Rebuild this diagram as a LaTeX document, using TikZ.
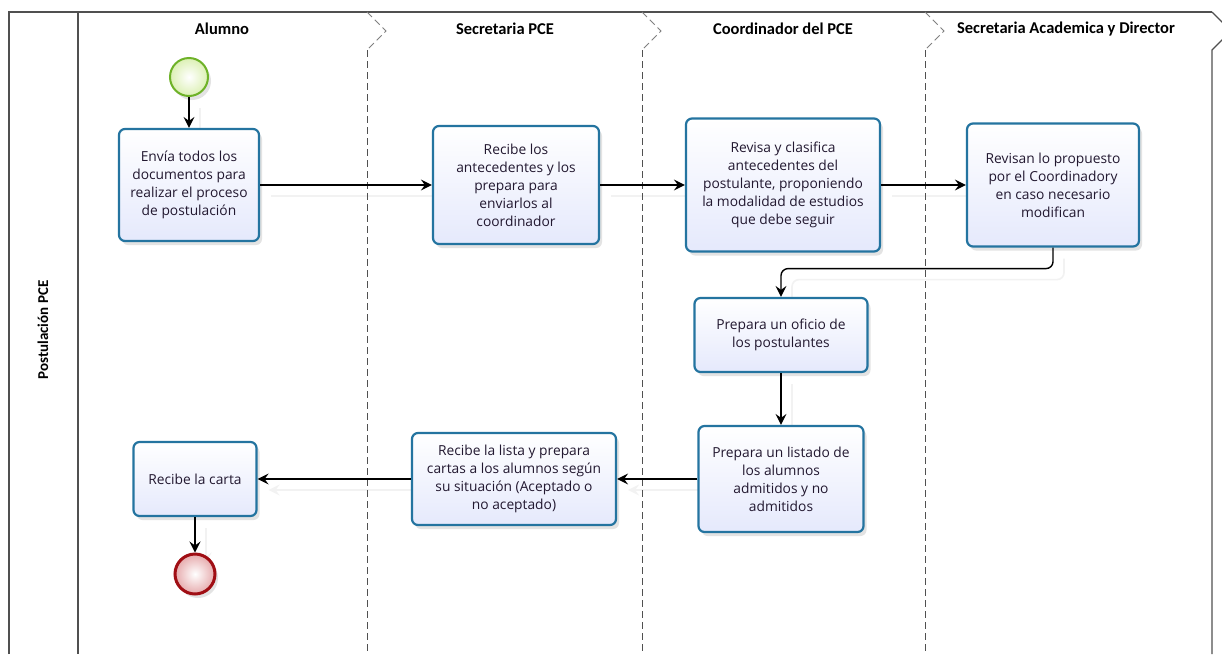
\documentclass[tikz,border=0pt]{standalone}
\usepackage{fontspec}
\setmainfont{Open Sans}
\newfontfamily\headfont{Carlito}
\usetikzlibrary{arrows.meta,shadows}

\definecolor{taskline}{RGB}{36,116,160}
\definecolor{taskfill}{RGB}{229,233,252}
\definecolor{tasktext}{RGB}{34,24,48}
\definecolor{startline}{RGB}{110,178,40}
\definecolor{startfill}{RGB}{220,240,180}
\definecolor{endline}{RGB}{160,14,20}
\definecolor{endfill}{RGB}{230,170,172}
\definecolor{laneline}{RGB}{80,80,80}
\definecolor{flowshade}{RGB}{242,242,242}

\pgfdeclarelayer{background}
\pgfsetlayers{background,main}

\tikzset{
  task/.style={draw=taskline, line width=2.2pt, rounded corners=6pt,
    top color=white, bottom color=taskfill, align=center, inner sep=0pt,
    text=tasktext, font=\fontsize{13.8}{18}\selectfont,
    drop shadow={shadow xshift=3pt, shadow yshift=-4pt, opacity=0.22}},
  startev/.style={circle, draw=startline, line width=2pt, minimum size=38pt,
    inner color=white, outer color=startfill,
    drop shadow={shadow xshift=3pt, shadow yshift=-4pt, opacity=0.22}},
  endev/.style={circle, draw=endline, line width=3pt, minimum size=40pt,
    inner color=white, outer color=endfill,
    drop shadow={shadow xshift=3pt, shadow yshift=-4pt, opacity=0.22}},
  flow/.style={line width=1.4pt, draw=black,
    -{Stealth[length=11pt, width=11pt, inset=4pt]}},
  flowshadow/.style={line width=1.6pt, draw=flowshade,
    -{Stealth[length=11pt, width=11pt, inset=4pt]},
    transform canvas={shift={(11pt,-11pt)}}},
  lanehead/.style={font=\headfont\bfseries\fontsize{16.5}{18}\selectfont, text=black},
  lanedash/.style={laneline, line width=1pt, dash pattern=on 7pt off 4pt},
  lanetip/.style={gray, line width=1pt, dash pattern=on 7pt off 4pt},
  frame/.style={laneline, line width=1.3pt}
}

\begin{document}
\begin{tikzpicture}[x=1pt, y=-1pt]
\useasboundingbox (0,0) rectangle (1222,654);
\clip (0,0) rectangle (1222,654);
\begin{pgfonlayer}{background}
\fill[white] (0,0) rectangle (1222,654);
\end{pgfonlayer}

% pool frame and title column
\draw[frame] (9,654) -- (9,12) -- (1212,12);
\draw[frame] (78,12) -- (78,654);
\draw[frame] (1212,12) -- (1231,31) -- (1212,50) -- (1212,654);
\node[font=\headfont\bfseries\fontsize{15}{17}\selectfont, rotate=90] (pool) at (43,330) {Postulación PCE};

% lane separators
\foreach \lx in {367,642,925}{
  \draw[lanetip] (\lx,12) -- (\lx+19,31) -- (\lx,50);
  \draw[lanedash] (\lx,50) -- (\lx,654);
}

% lane headers
\node[lanehead] (h1) at (222,29) {Alumno};
\node[lanehead] (h2) at (505,29) {Secretaria PCE};
\node[lanehead] (h3) at (783,29) {Coordinador del PCE};
\node[lanehead] (h4) at (1066,29) {Secretaria Academica y Director};

% events
\node[startev] (start) at (189,77) {};
\node[endev] (stop) at (195,574) {};

% tasks
\node[task, minimum width=140pt, minimum height=112pt] (envia) at (189,185)
  {Envía todos los\\documentos para\\realizar el proceso\\de postulación};
\node[task, minimum width=166pt, minimum height=118pt] (recibe) at (516,185)
  {Recibe los\\antecedentes y los\\prepara para\\enviarlos al\\coordinador};
\node[task, minimum width=194pt, minimum height=133pt] (revisa) at (783,185)
  {Revisa y clasifica\\antecedentes del\\postulante, proponiendo\\la modalidad de estudios\\que debe seguir};
\node[task, minimum width=172pt, minimum height=123pt] (revisan) at (1053,185)
  {Revisan lo propuesto\\por el Coordinadory\\en caso necesario\\modifican};
\node[task, minimum width=173pt, minimum height=74pt] (oficio) at (781,335)
  {Prepara un oficio de\\los postulantes};
\node[task, minimum width=165pt, minimum height=106pt] (listado) at (781,479)
  {Prepara un listado de\\los alumnos\\admitidos y no\\admitidos};
\node[task, minimum width=204pt, minimum height=92pt] (lista) at (514,479)
  {Recibe la lista y prepara\\cartas a los alumnos según\\su situación (Aceptado o\\no aceptado)};
\node[task, minimum width=123pt, minimum height=74pt] (carta) at (195,479)
  {Recibe la carta};

% faint offset shadows of the flows, kept behind everything
\begin{pgfonlayer}{background}
\draw[flowshadow] (start) -- (start |- envia.north);
\draw[flowshadow] (envia) -- (recibe);
\draw[flowshadow] (recibe) -- (revisa);
\draw[flowshadow] (revisa) -- (revisan);
\draw[flowshadow, rounded corners=7pt] (revisan.south) -- ++(0,21) -| (oficio.north);
\draw[flowshadow] (oficio) -- (listado);
\draw[flowshadow] (listado) -- (lista);
\draw[flowshadow] (lista) -- (carta);
\draw[flowshadow] (carta) -- (stop);
\end{pgfonlayer}

% sequence flows
\draw[flow] (start) -- (start |- envia.north);
\draw[flow] (envia) -- (recibe);
\draw[flow] (recibe) -- (revisa);
\draw[flow] (revisa) -- (revisan);
\draw[flow, rounded corners=7pt] (revisan.south) -- ++(0,21) -| (oficio.north);
\draw[flow] (oficio) -- (listado);
\draw[flow] (listado) -- (lista);
\draw[flow] (lista) -- (carta);
\draw[flow] (carta) -- (stop);
\end{tikzpicture}
\end{document}
